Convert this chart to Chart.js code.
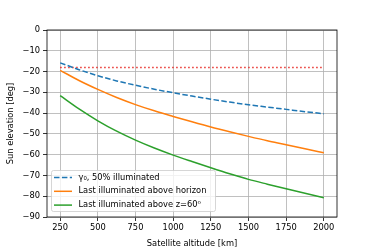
<!DOCTYPE html>
<html>
<head>
<meta charset="UTF-8">
<script src="https://cdn.jsdelivr.net/npm/chart.js"></script>
<style>
  html, body { margin: 0; padding: 0; background: #fff; }
  #wrap { width: 374px; height: 249px; }
</style>
</head>
<body>
<div id="wrap"><canvas id="c" width="374" height="249"></canvas></div>
<script>
// altitude [km]
const altitudes = [250, 375, 500, 625, 750, 875, 1000, 1125, 1250, 1375, 1500, 1625, 1750, 1875, 2000];
// sun elevation [deg]
const gamma0 = [-15.8, -19.1, -22.0, -24.5, -26.6, -28.5, -30.2, -31.8, -33.3, -34.7, -36.0, -37.1, -38.2, -39.3, -40.3];
const lastHorizon = [-19.4, -24.3, -28.6, -32.5, -35.9, -38.9, -41.6, -44.2, -46.7, -49.0, -51.2, -53.3, -55.2, -57.2, -59.1];
const lastZ60 = [-31.6, -38.0, -43.7, -48.7, -53.0, -56.8, -60.2, -63.3, -66.3, -69.2, -71.9, -74.2, -76.4, -78.6, -80.7];
const refAltitudes = [250, 2000];
const refLevel = [-18, -18];

const xTicks = [250, 500, 750, 1000, 1250, 1500, 1750, 2000];
const yTicks = [-90, -80, -70, -60, -50, -40, -30, -20, -10, 0];

const seriesLabels = ['γ₀, 50% illuminated', 'Last illuminated above horizon', 'Last illuminated above z=60⁰'];

const FONT = 'DejaVu Sans';
const pts = (xs, ys) => xs.map((x, i) => ({x: x, y: ys[i]}));

// box around plot + legend in lower left, like matplotlib
const framePlugin = {
    id: 'frame',
    afterDraw(chart) {
        const ctx = chart.ctx;
        const a = chart.chartArea;
        ctx.save();
        ctx.strokeStyle = '#000';
        ctx.lineWidth = 0.8;
        ctx.strokeRect(a.left, a.top, a.right - a.left, a.bottom - a.top);

        // legend
        const items = chart.data.datasets.filter(d => d.label);
        const x0 = a.left + 4.5, y0 = 170.5, w = 164, h = 41;
        ctx.fillStyle = 'rgba(255,255,255,0.8)';
        ctx.strokeStyle = '#cccccc';
        ctx.lineWidth = 0.8;
        ctx.beginPath();
        ctx.roundRect(x0, y0, w, h, 2);
        ctx.fill();
        ctx.stroke();
        ctx.font = '8.3px "' + FONT + '"';
        ctx.textBaseline = 'middle';
        items.forEach((d, i) => {
            const yy = y0 + 7 + i * 13.8;
            ctx.strokeStyle = d.borderColor;
            ctx.lineWidth = d.borderWidth;
            ctx.setLineDash(d.borderDash || []);
            ctx.beginPath();
            ctx.moveTo(x0 + 2.5, yy);
            ctx.lineTo(x0 + 20.5, yy);
            ctx.stroke();
            ctx.setLineDash([]);
            ctx.fillStyle = '#000';
            ctx.fillText(d.label, x0 + 27, yy);
        });
        ctx.restore();
    }
};

new Chart(document.getElementById('c'), {
    type: 'line',
    data: {
        datasets: [
            {label: seriesLabels[0], data: pts(altitudes, gamma0), borderColor: '#1f77b4', borderWidth: 1.5, borderDash: [5.5, 2.4]},
            {label: seriesLabels[1], data: pts(altitudes, lastHorizon), borderColor: '#ff7f0e', borderWidth: 1.5},
            {label: seriesLabels[2], data: pts(altitudes, lastZ60), borderColor: '#2ca02c', borderWidth: 1.5},
            {data: pts(refAltitudes, refLevel), borderColor: '#e8302a', borderWidth: 1.5, borderDash: [1.5, 2.5]}
        ]
    },
    options: {
        responsive: false,
        animation: false,
        events: [],
        elements: {point: {radius: 0}, line: {tension: 0.4, cubicInterpolationMode: 'monotone'}},
        layout: {padding: {top: 30, right: 37, left: 6, bottom: 0}},
        plugins: {legend: {display: false}, tooltip: {enabled: false}},
        scales: {
            x: {
                type: 'linear',
                min: 162.5,
                max: 2087.5,
                afterBuildTicks: s => { s.ticks = xTicks.map(v => ({value: v})); },
                afterFit: s => { s.height = 32; },
                grid: {color: '#b0b0b0', lineWidth: 0.8, tickColor: '#000', tickLength: 4, drawTicks: true},
                border: {display: false},
                ticks: {color: '#000', font: {family: FONT, size: 8.3}, padding: 2, maxRotation: 0, autoSkip: false,
                    callback: v => String(v)},
                title: {display: true, text: 'Satellite altitude [km]', color: '#000', font: {family: FONT, size: 8.3}, padding: {top: 1, bottom: 0}}
            },
            y: {
                min: -90,
                max: 0,
                afterBuildTicks: s => { s.ticks = yTicks.map(v => ({value: v})); },
                afterFit: s => { s.width = 41; },
                grid: {color: '#b0b0b0', lineWidth: 0.8, tickColor: '#000', tickLength: 4, drawTicks: true},
                border: {display: false},
                ticks: {color: '#000', font: {family: FONT, size: 8.3}, padding: 3,
                    callback: v => v < 0 ? '\u2212' + Math.abs(v) : String(v)},
                title: {display: true, text: 'Sun elevation [deg]', color: '#000', font: {family: FONT, size: 8.3}, padding: {top: 0, bottom: 2}}
            }
        }
    },
    plugins: [framePlugin]
});
</script>
</body>
</html>
